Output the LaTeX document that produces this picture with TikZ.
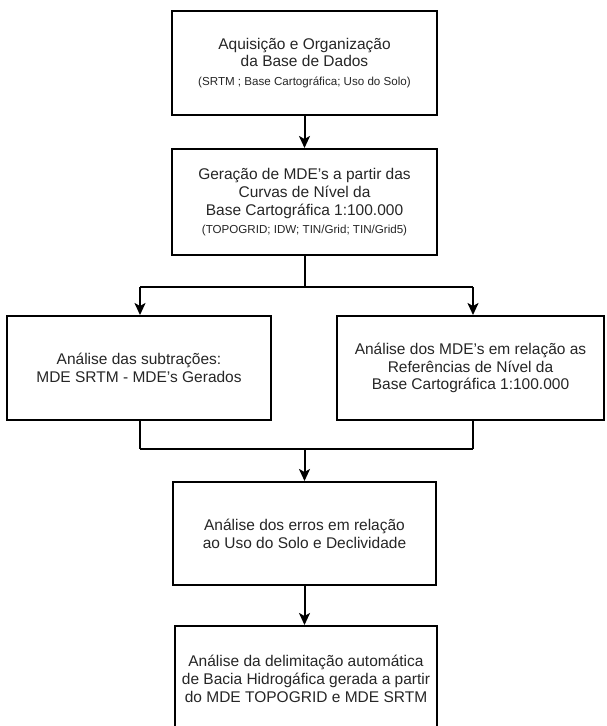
\documentclass[tikz,border=0pt]{standalone}
\usepackage{fontspec}
\setmainfont{Liberation Sans}
\usetikzlibrary{arrows.meta}
\definecolor{txt}{HTML}{262626}
\tikzset{
  box/.style={draw=black, line width=2pt, fill=white, align=center, text=txt,
    font=\fontsize{15.5pt}{17.8pt}\selectfont, inner sep=0pt},
  conn/.style={line width=2pt, draw=black},
  arr/.style={conn, -{Stealth[length=12pt,width=11pt,inset=3pt]}},
}
\newcommand{\smalltxt}[1]{{\fontsize{11.6pt}{14pt}\selectfont #1}}
\begin{document}
\begin{tikzpicture}[x=1pt,y=-1pt]
\useasboundingbox (0,0) rectangle (606,726);
\node[box, minimum width=265pt, minimum height=104pt] (b1) at (304.5,63)
  {Aquisição e Organização\\da Base de Dados\\[1pt]\smalltxt{(SRTM ; Base Cartográfica; Uso do Solo)}};
\node[box, minimum width=265pt, minimum height=106pt] (b2) at (304.5,202)
  {Geração de MDE's a partir das\\Curvas de Nível da\\Base Cartográfica 1:100.000\\\smalltxt{(TOPOGRID; IDW; TIN/Grid; TIN/Grid5)}};
\node[box, minimum width=264pt, minimum height=104pt] (bl) at (139,368)
  {Análise das subtrações:\\MDE SRTM - MDE's Gerados};
\node[box, minimum width=267pt, minimum height=104pt] (br) at (470.5,368)
  {Análise dos MDE's em relação as\\Referências de Nível da\\Base Cartográfica 1:100.000};
\node[box, minimum width=263pt, minimum height=103pt] (b3) at (304.5,533.5)
  {Análise dos erros em relação\\ao Uso do Solo e Declividade};
\node[box, minimum width=262pt, minimum height=106pt] (b4) at (306,679)
  {Análise da delimitação automática\\de Bacia Hidrogáfica gerada a partir\\do MDE TOPOGRID e MDE SRTM};
\coordinate (s1) at (304.5,287);
\coordinate (sl) at (140,287);
\coordinate (sr) at (473,287);
\coordinate (m1) at (304.5,449);
\coordinate (ml) at (140,449);
\coordinate (mr) at (473,449);
\draw[arr] (b1.south) -- (b2.north);
\draw[conn] (b2.south) -- (s1);
\draw[conn] (sl) -- (sr);
\draw[arr] (sl) -- (sl |- bl.north);
\draw[arr] (sr) -- (sr |- br.north);
\draw[conn] (sl |- bl.south) -- (ml);
\draw[conn] (sr |- br.south) -- (mr);
\draw[conn] (ml) -- (mr);
\draw[arr] (m1) -- (m1 |- b3.north);
\draw[arr] (b3.south) -- (b3.south |- b4.north);
\end{tikzpicture}
\end{document}
